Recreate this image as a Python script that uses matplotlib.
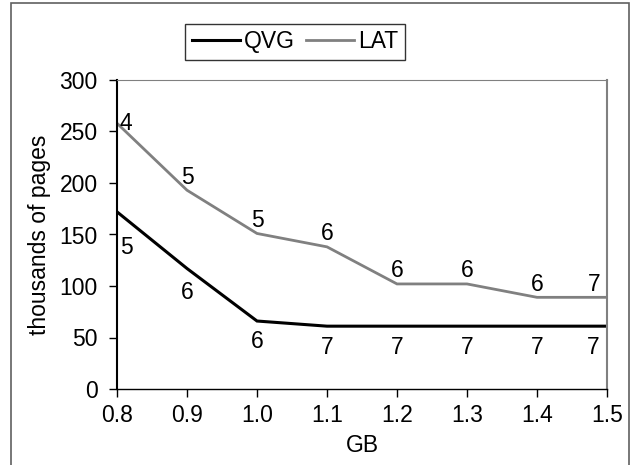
import numpy as np
import matplotlib.pyplot as plt
from matplotlib.patches import Rectangle

plt.rcParams['font.family'] = ['Liberation Sans', 'DejaVu Sans']

# data
gb = [0.8, 0.9, 1.0, 1.1, 1.2, 1.3, 1.4, 1.5]
qvg = [172, 117, 66, 61, 61, 61, 61, 61]
lat = [258, 193, 151, 138, 102, 102, 89, 89]
qvg_lbl = ['5', '6', '6', '7', '7', '7', '7', '7']
lat_lbl = ['4', '5', '5', '6', '6', '6', '6', '7']

fig = plt.figure(figsize=(6.31, 4.65), dpi=100)
ax = fig.add_axes([117 / 631, 1 - 389 / 465, 490 / 631, 309 / 465])

ax.plot(gb, qvg, color='black', lw=2.2, label='QVG', solid_joinstyle='miter')
ax.plot(gb, lat, color='#808080', lw=2.0, label='LAT', solid_joinstyle='miter')

fs = 16.5
n = len(gb)
for i, (x, y) in enumerate(zip(gb, lat)):
    dx, dy = 0, 9.5
    if i == 0:
        dx, dy = 6.5, 0
    elif i == n - 1:
        dx = -9
    ax.annotate(lat_lbl[i], (x, y), xytext=(dx, dy), textcoords='offset points',
                ha='center', va='center', fontsize=fs)
for i, (x, y) in enumerate(zip(gb, qvg)):
    dx, dy = 0, -15
    if i == 0:
        dx, dy = 6.5, -26
    elif i == 1:
        dy = -17.5
    elif i == n - 1:
        dx = -10
    ax.annotate(qvg_lbl[i], (x, y), xytext=(dx, dy), textcoords='offset points',
                ha='center', va='center', fontsize=fs)

ax.set_xlim(0.8, 1.5)
ax.set_ylim(0, 300)
ax.set_xticks(gb)
ax.set_xticklabels(['%.1f' % v for v in gb])
ax.set_yticks(range(0, 301, 50))
ax.tick_params(axis='both', labelsize=fs, direction='out', length=6, width=1)
ax.tick_params(axis='x', pad=5)
ax.tick_params(axis='y', pad=8)

ax.spines['left'].set_color('black')
ax.spines['left'].set_linewidth(1.5)
ax.spines['bottom'].set_color('black')
ax.spines['bottom'].set_linewidth(1.0)
ax.spines['top'].set_color('#808080')
ax.spines['right'].set_color('#808080')
ax.spines['right'].set_linewidth(1.5)

ax.set_xlabel('GB', fontsize=fs, labelpad=5)
ax.set_ylabel('thousands of pages', fontsize=fs, labelpad=6)

leg = ax.legend(loc='center', bbox_to_anchor=((295 - 117) / 490, (389 - 42) / 309),
                ncol=2, fontsize=fs, frameon=True, fancybox=False,
                handlelength=2.1, handletextpad=0.15, columnspacing=0.5,
                borderpad=0.3, borderaxespad=0)
leg.get_frame().set_edgecolor('black')
leg.get_frame().set_linewidth(1.0)

# outer frame of the figure
fig.patches.append(Rectangle((11 / 631, -0.1), 618 / 631, 1.1 - 3 / 465,
                             transform=fig.transFigure, fill=False,
                             edgecolor='#606060', lw=1.2))

fig.savefig('out.png', dpi=100)
